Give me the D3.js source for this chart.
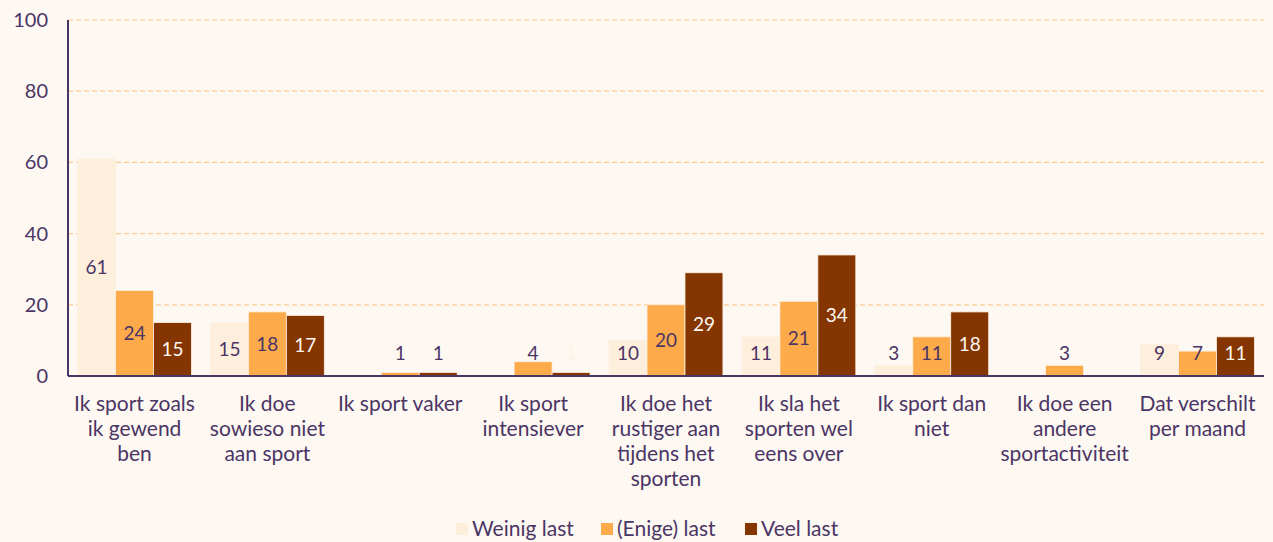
<!DOCTYPE html>
<html>
<head>
<meta charset="utf-8">
<script src="https://cdn.jsdelivr.net/npm/d3@7"></script>
<style>
  body { margin: 0; background: #FEF8F2; }
  svg { display: block; font-family: Lato, "Open Sans", sans-serif; }
</style>
</head>
<body>
<div id="chart"></div>
<script>
// categories, wrapped the way they appear under the axis
var categories = [
    ["Ik sport zoals", "ik gewend", "ben"],
    ["Ik doe", "sowieso niet", "aan sport"],
    ["Ik sport vaker"],
    ["Ik sport", "intensiever"],
    ["Ik doe het", "rustiger aan", "tijdens het", "sporten"],
    ["Ik sla het", "sporten wel", "eens over"],
    ["Ik sport dan", "niet"],
    ["Ik doe een", "andere", "sportactiviteit"],
    ["Dat verschilt", "per maand"]
];
var seriesNames = ["Weinig last", "(Enige) last", "Veel last"];
var weinigLast = [61, 15, 0, 0, 10, 11, 3, 0, 9];
var enigeLast = [24, 18, 1, 4, 20, 21, 11, 3, 7];
var veelLast = [15, 17, 1, 1, 29, 34, 18, 0, 11];
var yTicks = [0, 20, 40, 60, 80, 100];

var colors = ["#FEEEDC", "#FDAA4A", "#843500"];
var labelColors = ["#4B3565", "#4B3565", "#FEF8F2"];
var textColor = "#4B3565";
// in the original the "Veel last" label of "Ik sport intensiever" stays white-on-background
var faintLabel = { cat: 3, series: 2 };

var W = 1273, H = 542;
var margin = { top: 20, right: 9, bottom: 166, left: 68 };
var width = W - margin.left - margin.right,
    height = H - margin.top - margin.bottom;

var svg = d3.select("#chart").append("svg")
    .attr("width", W).attr("height", H)
    .style("background-color", "#FEF8F2");

var g = svg.append("g")
    .attr("transform", "translate(" + margin.left + "," + margin.top + ")");

var x0 = d3.scaleBand()
    .domain(d3.range(categories.length))
    .range([0, width])
    .paddingInner(0.143)
    .paddingOuter(0.072);

var x1 = d3.scaleBand()
    .domain(d3.range(seriesNames.length))
    .range([0, x0.bandwidth()]);

var y = d3.scaleLinear().domain([0, 100]).range([height, 0]);

// gridlines
g.append("g").selectAll("line")
    .data(yTicks.filter(function (d) { return d > 0; }))
    .enter().append("line")
    .attr("x1", 0).attr("x2", width)
    .attr("y1", function (d) { return y(d); })
    .attr("y2", function (d) { return y(d); })
    .attr("stroke", "#FDCB8E")
    .attr("stroke-width", 1.2)
    .attr("stroke-dasharray", "5,3");

// y tick labels
g.append("g").selectAll("text")
    .data(yTicks)
    .enter().append("text")
    .attr("x", -20)
    .attr("y", function (d) { return y(d); })
    .attr("dy", "0.35em")
    .attr("text-anchor", "end")
    .attr("fill", textColor)
    .style("font-size", "20px")
    .text(function (d) { return d; });

var allSeries = [weinigLast, enigeLast, veelLast];

var groups = g.selectAll(".grp")
    .data(categories)
    .enter().append("g")
    .attr("class", "grp")
    .attr("transform", function (d, i) { return "translate(" + x0(i) + ",0)"; });

groups.each(function (cat, ci) {
    var grp = d3.select(this);
    allSeries.forEach(function (vals, si) {
        var v = vals[ci];
        if (v <= 0) return;
        grp.append("rect")
            .attr("x", x1(si))
            .attr("width", x1.bandwidth())
            .attr("y", y(v))
            .attr("height", height - y(v))
            .attr("fill", colors[si])
            .attr("stroke", "#FEF1E2")
            .attr("stroke-width", 0.8);
        var ly = Math.min(y(v / 2), height - 23);
        var inside = y(v) <= ly - 8;
        var col = inside ? labelColors[si] : textColor;
        if (ci === faintLabel.cat && si === faintLabel.series) col = "#FEF3E8";
        grp.append("text")
            .attr("x", x1(si) + x1.bandwidth() / 2)
            .attr("y", ly)
            .attr("dy", "0.35em")
            .attr("text-anchor", "middle")
            .attr("fill", col)
            .style("font-size", "19px")
            .text(v);
    });
});

// axes lines
g.append("line")
    .attr("x1", 0).attr("x2", 0)
    .attr("y1", 0).attr("y2", height)
    .attr("stroke", textColor).attr("stroke-width", 2);
g.append("line")
    .attr("x1", 0).attr("x2", width)
    .attr("y1", height).attr("y2", height)
    .attr("stroke", textColor).attr("stroke-width", 2);

// category labels
groups.append("text")
    .attr("x", x0.bandwidth() / 2)
    .attr("y", height + 35)
    .attr("text-anchor", "middle")
    .attr("fill", textColor)
    .style("font-size", "21px")
    .selectAll("tspan")
    .data(function (d) { return d; })
    .enter().append("tspan")
    .attr("x", x0.bandwidth() / 2)
    .attr("dy", function (d, i) { return i === 0 ? 0 : 25; })
    .text(function (d) { return d; });

// legend
var legend = svg.append("g").attr("transform", "translate(0," + 529 + ")");
var legendX = [456, 601, 745];
seriesNames.forEach(function (name, i) {
    var lg = legend.append("g").attr("transform", "translate(" + legendX[i] + ",0)");
    lg.append("rect")
        .attr("x", 0).attr("y", -6)
        .attr("width", 12).attr("height", 12)
        .attr("fill", colors[i]);
    lg.append("text")
        .attr("x", 16).attr("y", 0)
        .attr("dy", "0.35em")
        .attr("fill", textColor)
        .style("font-size", "21px")
        .text(name);
});
</script>
</body>
</html>
